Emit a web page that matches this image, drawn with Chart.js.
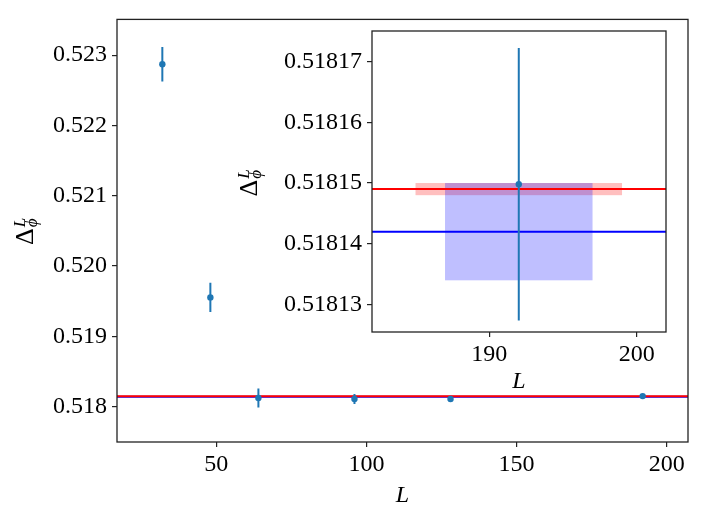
<!DOCTYPE html>
<html>
<head>
<meta charset="utf-8">
<script src="https://cdn.jsdelivr.net/npm/chart.js@4.4.0/dist/chart.umd.min.js"></script>
<style>
  html, body { margin: 0; padding: 0; background: #fff; }
  #wrap { position: relative; width: 705px; height: 517px; }
  #wrap canvas { position: absolute; left: 0; top: 0; }
</style>
</head>
<body>
<div id="wrap">
  <canvas id="chart-main" width="705" height="517"></canvas>
  <canvas id="chart-inset" width="705" height="517"></canvas>
</div>
<script>
// ── Data ─────────────────────────────────────────────────
const L_VALUES  = [32, 48, 64, 96, 128, 192];
const DELTA     = [0.522869, 0.519554, 0.518123, 0.518109, 0.518109, 0.5181498];
const DELTA_ERR = [0.000245, 0.000207, 0.000134, 0.00007, 0.00002, 0.0000224];

// reference values: red, blue
const REF_VALUES = [0.518149, 0.518142];
const REF_COLORS = ['#ff0000', '#0000ff'];
const BAND_X     = [[185, 199], [187, 197]];
const BAND_Y     = [[0.518148, 0.518150], [0.518134, 0.518150]];
const BAND_FILLS = ['rgba(255,0,0,0.25)', 'rgba(0,0,255,0.25)'];

const MAIN_X_TICKS  = [50, 100, 150, 200];
const MAIN_Y_TICKS  = [0.518, 0.519, 0.520, 0.521, 0.522, 0.523];
const INSET_X_TICKS = [190, 200];
const INSET_Y_TICKS = [0.51813, 0.51814, 0.51815, 0.51816, 0.51817];

const FONT   = '"Liberation Serif", "Times New Roman", serif';
const POINT  = '#1f77b4';
const FRAME  = '#222';

function drawYLabel(ctx, baseX, startY) {
  // Δ_ϕ^L, rotated to read bottom-to-top
  ctx.save();
  ctx.translate(baseX, startY);
  ctx.rotate(-Math.PI / 2);
  ctx.fillStyle = '#000';
  ctx.textAlign = 'left';
  ctx.textBaseline = 'alphabetic';
  ctx.font = '26px ' + FONT;
  ctx.fillText('Δ', 0, 0);
  const w = ctx.measureText('Δ').width;
  ctx.font = 'italic 17px ' + FONT;
  ctx.fillText('L', w + 1, -8);
  ctx.fillText('ϕ', w + 1, 4);
  ctx.restore();
}

function decorPlugin(opts) {
  return {
    id: 'decor',
    beforeDraw(chart) {
      const { ctx, chartArea: a } = chart;
      ctx.save();
      ctx.fillStyle = '#fff';
      ctx.fillRect(a.left, a.top, a.right - a.left, a.bottom - a.top);
      ctx.restore();
    },
    beforeDatasetsDraw(chart) {
      const { ctx, chartArea: a, scales: { x, y } } = chart;
      ctx.save();
      ctx.beginPath();
      ctx.rect(a.left, a.top, a.right - a.left, a.bottom - a.top);
      ctx.clip();
      // bands (red first, blue over it)
      BAND_X.forEach((bx, i) => {
        const x0 = x.getPixelForValue(bx[0]), x1 = x.getPixelForValue(bx[1]);
        const y0 = y.getPixelForValue(BAND_Y[i][1]), y1 = y.getPixelForValue(BAND_Y[i][0]);
        ctx.fillStyle = BAND_FILLS[i];
        ctx.fillRect(x0, y0, x1 - x0, Math.max(y1 - y0, 0.5));
      });
      // horizontal reference lines, blue under red
      [1, 0].forEach(i => {
        const py = y.getPixelForValue(REF_VALUES[i]);
        ctx.strokeStyle = REF_COLORS[i];
        ctx.lineWidth = 2;
        ctx.beginPath();
        ctx.moveTo(a.left, py);
        ctx.lineTo(a.right, py);
        ctx.stroke();
      });
      // error bars
      ctx.strokeStyle = POINT;
      ctx.lineWidth = 2;
      L_VALUES.forEach((l, i) => {
        const px = x.getPixelForValue(l);
        ctx.beginPath();
        ctx.moveTo(px, y.getPixelForValue(DELTA[i] - DELTA_ERR[i]));
        ctx.lineTo(px, y.getPixelForValue(DELTA[i] + DELTA_ERR[i]));
        ctx.stroke();
      });
      ctx.restore();
    },
    afterDraw(chart) {
      const { ctx, chartArea: a } = chart;
      ctx.save();
      ctx.strokeStyle = FRAME;
      ctx.lineWidth = 1.3;
      ctx.strokeRect(a.left, a.top, a.right - a.left, a.bottom - a.top);
      ctx.fillStyle = '#000';
      ctx.font = 'italic 24px ' + FONT;
      ctx.textAlign = 'center';
      ctx.textBaseline = 'alphabetic';
      ctx.fillText('L', (a.left + a.right) / 2, opts.xLabelBase);
      ctx.restore();
      drawYLabel(ctx, opts.yLabelX, opts.yLabelStart);
    }
  };
}

function axisCfg(min, max, ticks, fmt, fitProp, fitSize) {
  return {
    type: 'linear',
    min: min,
    max: max,
    afterBuildTicks: s => { s.ticks = ticks.map(v => ({ value: v })); },
    afterFit: s => { s[fitProp] = fitSize; },
    grid: { drawOnChartArea: false, drawTicks: true, tickLength: 5, color: FRAME, lineWidth: 1.2 },
    border: { display: false },
    ticks: {
      autoSkip: false,
      maxRotation: 0,
      padding: 3,
      color: '#000',
      font: { family: FONT, size: 24 },
      callback: fmt
    }
  };
}

function makeChart(id, xr, yr, xt, yt, yfmt, padding, yWidth, opts) {
  const xAxis = axisCfg(xr[0], xr[1], xt, v => String(v), 'height', 75);
  const yAxis = axisCfg(yr[0], yr[1], yt, yfmt, 'width', yWidth);
  yAxis.ticks.padding = 5;
  return new Chart(document.getElementById(id), {
    type: 'scatter',
    data: {
      datasets: [{
        data: L_VALUES.map((l, i) => ({ x: l, y: DELTA[i] })),
        backgroundColor: POINT,
        borderWidth: 0,
        pointRadius: 3.2,
        pointHoverRadius: 3.2
      }]
    },
    options: {
      responsive: false,
      animation: false,
      events: [],
      layout: { padding: padding },
      plugins: { legend: { display: false }, tooltip: { enabled: false } },
      scales: { x: xAxis, y: yAxis }
    },
    plugins: [decorPlugin(opts)]
  });
}

makeChart('chart-main',
  [16.9, 207.1], [0.517497, 0.523508],
  MAIN_X_TICKS, MAIN_Y_TICKS, v => v.toFixed(3),
  { left: 0, top: 17, right: 17, bottom: 0 }, 117,
  { xLabelBase: 501.5, yLabelX: 32.5, yLabelStart: 245 });

makeChart('chart-inset',
  [182.05, 201.98], [0.5181255, 0.518175],
  INSET_X_TICKS, INSET_Y_TICKS, v => v.toFixed(5),
  { left: 250, top: 31, right: 39, bottom: 110 }, 122,
  { xLabelBase: 388, yLabelX: 257, yLabelStart: 196.5 });
</script>
</body>
</html>
